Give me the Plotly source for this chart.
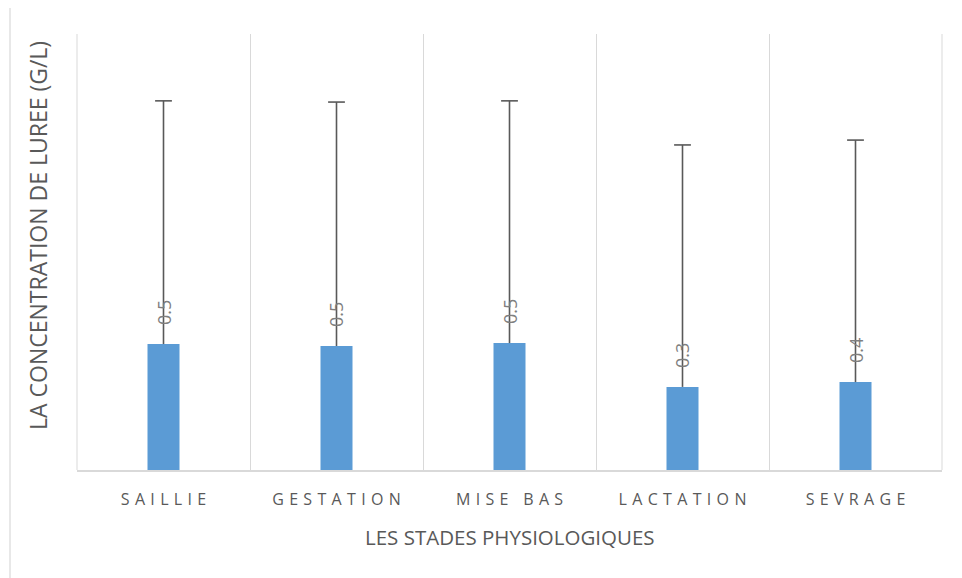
import plotly.graph_objects as go

categories = ["SAILLIE", "GESTATION", "MISE BAS", "LACTATION", "SEVRAGE"]
values = [0.520, 0.512, 0.524, 0.343, 0.363]
errors = [1.004, 1.007, 1.000, 0.999, 0.999]
x_title = "LES STADES PHYSIOLOGIQUES"
y_title = "LA CONCENTRATION DE LUREE (G/L)"

SP = "\u2004"


def spaced(s):
    return SP.join(" " if c == " " else c for c in s)


tick_text = [spaced(c) for c in categories]

OFF = 8  # page body margin
W, H = 962 - OFF, 578 - OFF
L, R, T, B = 77 - OFF, 20, 34 - OFF, 108
pw, ph = W - L - R, H - T - B


def px(xs):
    return (xs - OFF - L) / pw


def py(ys):
    return (H - B - (ys - OFF)) / ph


fig = go.Figure()
fig.add_trace(go.Bar(
    x=categories,
    y=values,
    width=0.185,
    marker=dict(color="#5b9bd5", line=dict(width=0)),
    showlegend=False,
    hoverinfo="x+y",
))

# plus-only error bars: stems from bar top, cap only at the upper end
stem_x, stem_y = [], []
for c, v, e in zip(categories, values, errors):
    stem_x += [c, c, None]
    stem_y += [v, v + e, None]
fig.add_trace(go.Scatter(
    x=stem_x, y=stem_y, mode="lines",
    line=dict(color="#595959", width=1.6),
    showlegend=False, hoverinfo="skip",
))
fig.add_trace(go.Scatter(
    x=categories, y=[v + e for v, e in zip(values, errors)], mode="markers",
    marker=dict(symbol="line-ew", size=12, line=dict(color="#595959", width=1.6)),
    showlegend=False, hoverinfo="skip",
))

for c, v in zip(categories, values):
    fig.add_annotation(x=c, y=v, xref="x", yref="y", text=f"{v:.1f}",
                       textangle=-90, showarrow=False, yanchor="bottom",
                       yshift=17, font=dict(family="Open Sans", size=18, color="#7f7f7f"))

fig.add_annotation(xref="paper", yref="paper", x=px(38), y=py(236),
                   xanchor="center", yanchor="middle",
                   text=y_title, textangle=-90, showarrow=False,
                   font=dict(family="Open Sans", size=23, color="#595959"))
fig.add_annotation(xref="paper", yref="paper", x=px(510), y=py(537),
                   xanchor="center", yanchor="middle",
                   text=x_title, showarrow=False,
                   font=dict(family="Open Sans", size=20.5, color="#595959"))

fig.add_shape(type="rect", xref="paper", yref="paper",
              x0=px(10), x1=px(990), y0=py(600), y1=py(6),
              line=dict(color="#d9d9d9", width=1.2), fillcolor="rgba(0,0,0,0)",
              layer="below")
for xe in (0, 1):
    fig.add_shape(type="line", xref="paper", yref="paper",
                  x0=xe, x1=xe, y0=0, y1=1,
                  line=dict(color="#d9d9d9", width=1), layer="below")

fig.update_xaxes(
    type="category",
    tickvals=categories, ticktext=tick_text,
    tickson="boundaries", ticks="",
    showgrid=True, gridcolor="#d9d9d9", gridwidth=1,
    showline=True, linecolor="#d9d9d9", linewidth=1.5,
    tickfont=dict(family="Open Sans", size=16, color="#595959"),
    ticklabelstandoff=14,
    range=[-0.5, 4.5],
)
fig.update_yaxes(range=[0, 1.8], showticklabels=False, showgrid=False,
                 zeroline=False, showline=False, ticks="")

fig.update_layout(
    width=W, height=H,
    margin=dict(l=L, r=R, t=T, b=B),
    plot_bgcolor="white", paper_bgcolor="white",
    font=dict(family="Open Sans", color="#595959"),
)

fig.write_html("out.html")
